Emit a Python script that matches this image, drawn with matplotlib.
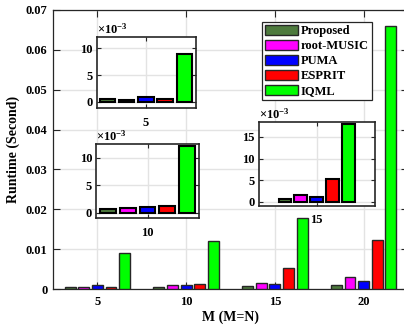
import matplotlib
matplotlib.use("Agg")
import matplotlib.pyplot as plt
import numpy as np

plt.rcParams['font.family'] = ['Liberation Serif', 'DejaVu Serif']
plt.rcParams['font.weight'] = 'bold'
plt.rcParams['mathtext.fontset'] = 'custom'
plt.rcParams['mathtext.rm'] = 'Liberation Serif'
plt.rcParams['mathtext.it'] = 'Liberation Serif'

# ---- data ----
M_labels = ['5', '10', '15', '20']
methods = ['Proposed', 'root-MUSIC', 'PUMA', 'ESPRIT', 'IQML']
colors = ['#4d7a3d', '#ff00ff', '#0000ff', '#ff0000', '#00ff00']
proposed = [0.0005, 0.0006, 0.0007, 0.0010]
root_music = [0.0004, 0.0009, 0.0015, 0.0029]
puma = [0.0009, 0.0010, 0.0012, 0.0020]
esprit = [0.0005, 0.0013, 0.0052, 0.0124]
iqml = [0.0090, 0.0121, 0.0179, 0.0660]
series = [proposed, root_music, puma, esprit, iqml]

y_ticks = [0, 0.01, 0.02, 0.03, 0.04, 0.05, 0.06, 0.07]
y_ticklabels = ['0', '0.01', '0.02', '0.03', '0.04', '0.05', '0.06', '0.07']

W, H = 404, 329
fig = plt.figure(figsize=(W / 100, H / 100), dpi=100)

def px_axes(x0, x1, y0, y1):
    return fig.add_axes([x0 / W, 1 - y1 / H, (x1 - x0) / W, (y1 - y0) / H])

spine_c = '#262626'
grid_c = '#e3e3e3'
nb = len(methods)
gw = nb / (nb + 1.5)
step = gw / nb
bw = step * 0.8
offsets = [(k - (nb - 1) / 2) * step for k in range(nb)]

# ---- main axes ----
ax = px_axes(53, 408, 10, 289)
x = np.arange(1, len(M_labels) + 1)
handles = []
for k in range(nb):
    h = ax.bar(x + offsets[k], series[k], width=bw, color=colors[k],
               edgecolor=spine_c, linewidth=1.0, label=methods[k], zorder=3)
    handles.append(h)
ax.set_xlim(0.5, 4.5)
ax.set_ylim(0, 0.07)
ax.set_xticks(x)
ax.set_xticklabels(M_labels)
ax.set_yticks(y_ticks)
ax.set_yticklabels(y_ticklabels)
ax.grid(True, color=grid_c, linewidth=1.0, zorder=0)
ax.set_axisbelow(True)
ax.tick_params(direction='in', length=5, width=0.8, colors=spine_c,
               labelcolor='black', top=True, right=True, labelsize=9)
ax.tick_params(axis='x', pad=5)
ax.tick_params(axis='y', pad=4)
for s in ax.spines.values():
    s.set_color(spine_c)
    s.set_linewidth(0.9)
ax.set_xlabel('M (M=N)', fontsize=10, fontweight='bold', labelpad=2)
ax.set_ylabel('Runtime (Second)', fontsize=10, fontweight='bold', labelpad=4)

leg = fig.legend(handles, methods, loc='upper left',
                 bbox_to_anchor=(262 / W, 1 - 21.5 / H), fontsize=9,
                 handlelength=2.6, handleheight=0.85, labelspacing=0.22,
                 handletextpad=0.25, borderpad=0.25, borderaxespad=0,
                 fancybox=False, framealpha=1, edgecolor=spine_c)
leg.get_frame().set_linewidth(0.9)
for t in leg.get_texts():
    t.set_fontweight('bold')

# ---- insets ----
insets = [
    (0, (97, 196, 36.7, 108.3), (-0.39, 0.40), (-1.25, 12.2), [0, 5, 10]),
    (1, (96.3, 198.7, 144, 218.3), (-0.40, 0.40), (-1.0, 12.5), [0, 5, 10]),
    (2, (259, 375.3, 121.7, 205.7), (-0.56, 0.57), (-0.9, 18.5), [0, 5, 10, 15]),
]
for gi, box, xl, yl, yt in insets:
    ia = px_axes(*box)
    for k in range(nb):
        ia.bar(offsets[k], series[k][gi] * 1e3, width=bw, color=colors[k],
               edgecolor='black', linewidth=1.5, zorder=3)
    ia.set_xlim(*xl)
    ia.set_ylim(*yl)
    ia.set_xticks([0])
    ia.set_xticklabels([M_labels[gi]])
    ia.set_yticks(yt)
    ia.grid(True, color=grid_c, linewidth=1.0, zorder=0)
    ia.set_axisbelow(True)
    ia.tick_params(direction='in', length=3, width=0.8, colors=spine_c,
                   labelcolor='black', top=True, right=True, labelsize=9)
    ia.tick_params(axis='x', pad=6)
    ia.tick_params(axis='y', pad=3)
    for s in ia.spines.values():
        s.set_color(spine_c)
        s.set_linewidth(1.2)
    ia.text(0.0, 1.0, r'$\times 10^{-3}$', transform=ia.transAxes,
            fontsize=9, ha='left', va='bottom')

fig.savefig('out.png', dpi=100)
